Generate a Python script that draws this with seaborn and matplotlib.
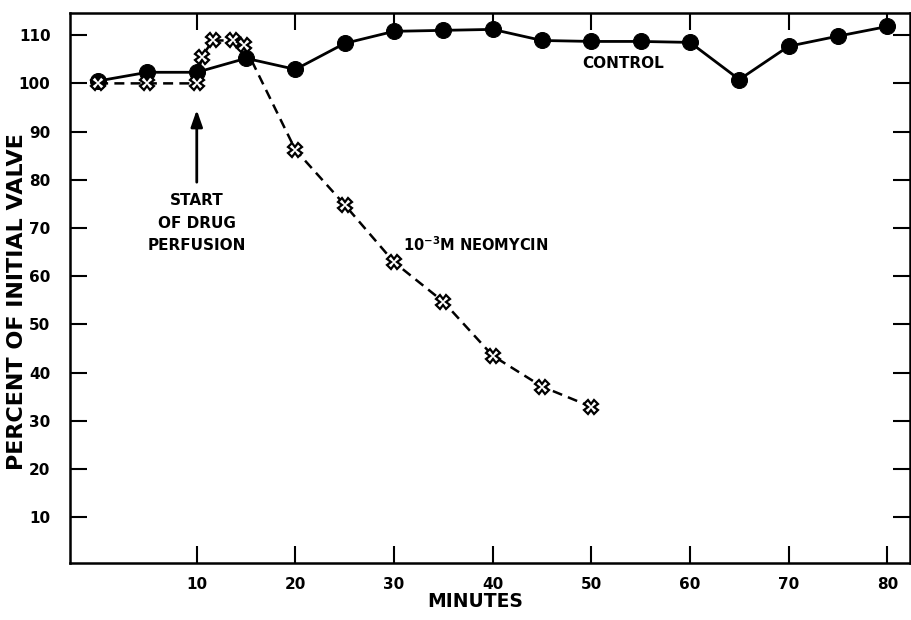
import matplotlib
matplotlib.use("Agg")
import matplotlib.pyplot as plt
import seaborn as sns
import pandas as pd

# Data
control_x = [0, 5, 10, 15, 20, 25, 30, 35, 40, 45, 50, 55, 60, 65, 70, 75, 80]
control_y = [100.5, 102.3, 102.3, 105.2, 102.9, 108.3, 110.8, 111.0, 111.2,
             108.9, 108.7, 108.7, 108.5, 100.8, 107.7, 109.8, 111.8]

neo_x = [0, 5, 10, 10.5, 11.6, 13.7, 14.8, 20, 25, 30, 35, 40, 45, 50]
neo_y = [100, 100, 100, 105.4, 108.9, 108.9, 107.9, 86.2, 74.8, 62.9, 54.7,
         43.5, 37.1, 32.9]

x_ticks = [10, 20, 30, 40, 50, 60, 70, 80]
y_ticks = [10, 20, 30, 40, 50, 60, 70, 80, 90, 100, 110]

sns.set_style("ticks")
plt.rcParams['font.family'] = ['DejaVu Sans']
plt.rcParams.update({"text.color": "black", "axes.labelcolor": "black",
                     "xtick.color": "black", "ytick.color": "black"})

fig = plt.figure(figsize=(9.12, 6.2), dpi=100)
ax = fig.add_axes([70/912, 57/620, 840/912, 550/620])

df_c = pd.DataFrame({"x": control_x, "y": control_y})
df_n = pd.DataFrame({"x": neo_x, "y": neo_y})

sns.lineplot(data=df_c, x="x", y="y", ax=ax, estimator=None, sort=False,
             color="black", linewidth=2.0, marker="o", markersize=11.5,
             markerfacecolor="black", markeredgecolor="black", zorder=3)
sns.lineplot(data=df_n, x="x", y="y", ax=ax, estimator=None, sort=False,
             color="black", linewidth=1.8, linestyle=(0, (4, 2.5)),
             marker="X", markersize=10, markerfacecolor="white",
             markeredgecolor="black", markeredgewidth=1.6, zorder=4)

ax.set_xlim(-2.85, 82.3)
ax.set_ylim(0.5, 114.6)
ax.set_xticks(x_ticks)
ax.set_yticks(y_ticks)
ax.set_xticklabels([str(v) for v in x_ticks])
ax.set_yticklabels([str(v) for v in y_ticks])
ax.tick_params(axis="both", direction="in", length=12, width=1.5,
               top=True, right=True, labelsize=11, colors="black")
ax.tick_params(axis="x", pad=10)
ax.tick_params(axis="y", pad=14)
for lab in ax.get_xticklabels() + ax.get_yticklabels():
    lab.set_fontweight("bold")
for s in ax.spines.values():
    s.set_linewidth(1.8)
    s.set_color("black")

ax.set_xlabel("MINUTES", fontsize=13.5, fontweight="bold")
ax.xaxis.set_label_coords(0.482, -0.053)
ax.set_ylabel("PERCENT OF INITIAL VALVE", fontsize=16, fontweight="bold")
ax.yaxis.set_label_coords(-0.051, 0.476)

ax.text(53.2, 104.1, "CONTROL", fontsize=11, fontweight="bold",
        ha="center", va="center")
ax.text(30.9, 66.5, r"$\mathbf{10^{-3}}$M NEOMYCIN", fontsize=10.5,
        fontweight="bold", ha="left", va="center")
ax.text(10, 71.0, "START\nOF DRUG\nPERFUSION", fontsize=11, fontweight="bold",
        ha="center", va="center", linespacing=1.6)
ax.annotate("", xy=(10, 94.5), xytext=(10, 79.5),
            arrowprops=dict(arrowstyle="-|>,head_length=1.0,head_width=0.35",
                            color="black", lw=2, shrinkA=0, shrinkB=0))

fig.savefig("out.png", dpi=100)
